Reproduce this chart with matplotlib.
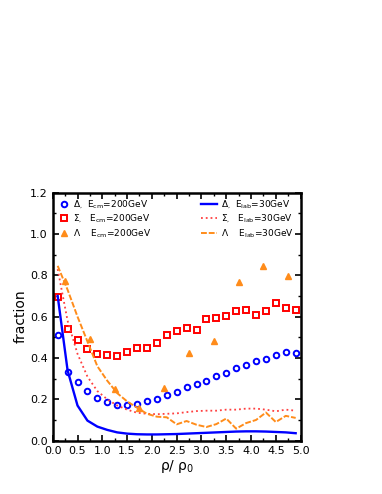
import numpy as np
import matplotlib
matplotlib.use('Agg')
import matplotlib.pyplot as plt
from matplotlib.ticker import MultipleLocator

plt.rcParams['font.family'] = ['DejaVu Sans']
plt.rcParams['mathtext.default'] = 'regular'

# 200 GeV points (x = rho/rho0)
x_pts = [0.1, 0.3, 0.5, 0.7, 0.9, 1.1, 1.3, 1.5, 1.7, 1.9, 2.1, 2.3, 2.5,
         2.7, 2.9, 3.1, 3.3, 3.5, 3.7, 3.9, 4.1, 4.3, 4.5, 4.7, 4.9]
delta_200 = [0.51, 0.33, 0.285, 0.24, 0.206, 0.185, 0.173, 0.174, 0.177, 0.194,
             0.203, 0.221, 0.235, 0.258, 0.273, 0.289, 0.315, 0.326, 0.35, 0.366,
             0.385, 0.395, 0.416, 0.427, 0.422]
sigma_200 = [0.695, 0.542, 0.489, 0.442, 0.419, 0.413, 0.41, 0.427, 0.447, 0.448,
             0.473, 0.51, 0.53, 0.545, 0.535, 0.589, 0.592, 0.602, 0.626, 0.634,
             0.61, 0.627, 0.665, 0.644, 0.634]
x_lam = [0.25, 0.75, 1.25, 1.75, 2.25, 2.75, 3.25, 3.75, 4.25, 4.75]
lambda_200 = [0.772, 0.49, 0.248, 0.156, 0.253, 0.426, 0.484, 0.768, 0.845, 0.799]

# 30 GeV curves
x_line = x_pts
delta_30 = [0.70, 0.34, 0.17, 0.097, 0.068, 0.052, 0.04, 0.034, 0.031, 0.03,
            0.03, 0.031, 0.032, 0.034, 0.036, 0.038, 0.04, 0.042, 0.044, 0.045,
            0.045, 0.044, 0.042, 0.04, 0.036]
sigma_30 = [0.83, 0.58, 0.42, 0.31, 0.24, 0.2, 0.17, 0.15, 0.135, 0.13,
            0.128, 0.13, 0.132, 0.138, 0.143, 0.145, 0.145, 0.15, 0.15, 0.155,
            0.155, 0.15, 0.142, 0.15, 0.145]
lambda_30 = [0.846, 0.73, 0.6, 0.48, 0.36, 0.29, 0.23, 0.19, 0.16, 0.13,
             0.116, 0.113, 0.079, 0.095, 0.077, 0.066, 0.08, 0.107, 0.058, 0.085,
             0.1, 0.136, 0.09, 0.12, 0.11]

blue = '#0000ff'
red = '#ff0000'
orange = '#ff8c1a'

fig = plt.figure(figsize=(3.82, 4.94), dpi=100)
ax = fig.add_axes([0.138, 0.108, 0.649, 0.502])

p1, = ax.plot(x_pts, delta_200, 'o', mfc='none', mec=blue, mew=1.4, ms=4)
p2, = ax.plot(x_pts, sigma_200, 's', mfc='none', mec=red, mew=1.4, ms=4.3)
p3, = ax.plot(x_lam, lambda_200, '^', mfc=orange, mec=orange, ms=3.8)

l1, = ax.plot(x_line, delta_30, '-', color=blue, lw=1.7)
l2, = ax.plot(x_line, sigma_30, ':', color='#ff4040', lw=1.3)
l3, = ax.plot(x_line, lambda_30, '--', color=orange, lw=1.4, dashes=(3, 1))

ax.set_xlim(0, 5)
ax.set_ylim(0, 1.2)
ax.xaxis.set_major_locator(MultipleLocator(0.5))
ax.xaxis.set_minor_locator(MultipleLocator(0.25))
ax.yaxis.set_major_locator(MultipleLocator(0.2))
ax.yaxis.set_minor_locator(MultipleLocator(0.1))
ax.tick_params(which='both', direction='in', top=True, right=True, labelsize=8)
ax.tick_params(which='major', length=4, width=1.2)
ax.tick_params(which='minor', length=2.5, width=1)
for s in ax.spines.values():
    s.set_linewidth(1.8)

ax.set_xlabel(r'$\rho$/ $\rho_0$', fontsize=10, labelpad=2)
ax.set_ylabel('fraction', fontsize=10, labelpad=2)

leg1 = ax.legend([p1, p2, p3],
                 [r'$\Delta_{,}$  E$_{cm}$=200GeV', r'$\Sigma_{,}$   E$_{cm}$=200GeV',
                  r'$\Lambda$    E$_{cm}$=200GeV'],
                 loc='upper left', frameon=False, fontsize=6.5, handlelength=1,
                 handletextpad=0.5, labelspacing=0.2, borderaxespad=0.3)
ax.add_artist(leg1)
ax.legend([l1, l2, l3],
          [r'$\Delta_{,}$  E$_{lab}$=30GeV', r'$\Sigma_{,}$   E$_{lab}$=30GeV',
           r'$\Lambda$    E$_{lab}$=30GeV'],
          loc='upper right', frameon=False, fontsize=6.5, handlelength=1.8,
          handletextpad=0.5, labelspacing=0.2, borderaxespad=0.3)

fig.savefig('out.png', dpi=100)
